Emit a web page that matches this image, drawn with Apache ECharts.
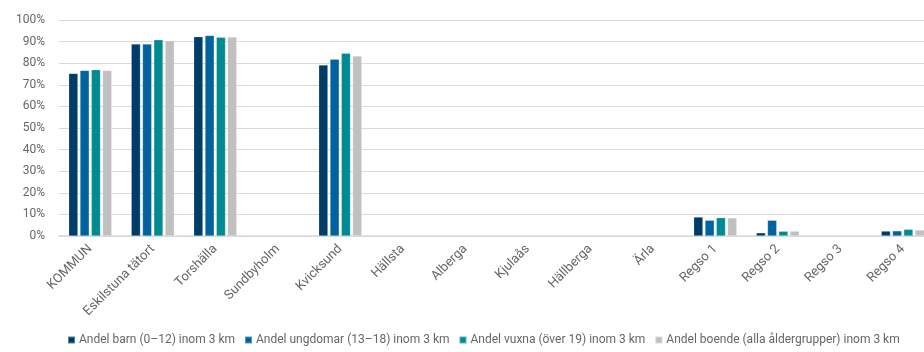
<!DOCTYPE html>
<html><head><meta charset="utf-8">
<script src="https://cdn.jsdelivr.net/npm/echarts@6/dist/echarts.min.js"></script>
<style>html,body{margin:0;padding:0;background:#fff}#c{width:924px;height:352px}</style>
</head><body><div id="c"></div>
<script>
const categories = ['KOMMUN','Eskilstuna tätort','Torshälla','Sundbyholm','Kvicksund','Hällsta','Alberga','Kjulaås','Hällberga','Ärla','Regso 1','Regso 2','Regso 3','Regso 4'];
const seriesNames = ['Andel barn (0–12) inom 3 km','Andel ungdomar (13–18) inom 3 km','Andel vuxna (över 19) inom 3 km','Andel boende (alla åldergrupper) inom 3 km'];
const barn     = [75.3, 88.9, 92.3, null, 79.2, null, null, null, null, null, 8.8, 1.5, null, 2.3];
const ungdomar = [76.7, 88.9, 92.8, null, 81.9, null, null, null, null, null, 7.3, 7.3, null, 2.4];
const vuxna    = [77.0, 90.9, 92.0, null, 84.6, null, null, null, null, null, 8.5, 2.2, null, 3.1];
const boende   = [76.7, 90.4, 92.1, null, 83.3, null, null, null, null, null, 8.4, 2.3, null, 2.8];
const yTicks = [0,10,20,30,40,50,60,70,80,90,100];
const colors = ['#003c68','#00629e','#008b93','#c0c0c0'];
const font = 'Roboto';
const chart = echarts.init(document.getElementById('c'));
const mk = (name, data, i) => ({
  name, type: 'bar', data, barGap: '22%', barCategoryGap: '31%',
  itemStyle: {color: colors[i], borderColor: 'rgba(255,255,255,0.35)', borderWidth: 0.6}
});
chart.setOption({
  animation: false,
  textStyle: {fontFamily: font},
  grid: {left: 59, width: 875, top: 20, bottom: 116, containLabel: false, outerBoundsMode: 'none'},
  legend: {
    bottom: 1, left: 62, itemWidth: 7, itemHeight: 7, itemGap: 9,
    icon: 'rect',
    textStyle: {color: '#666', fontSize: 12, fontFamily: font, padding: [0,0,0,-1]},
    data: seriesNames
  },
  xAxis: {
    type: 'category', data: categories,
    axisLine: {lineStyle: {color: '#d9d9d9', width: 1.5}},
    axisTick: {show: false},
    axisLabel: {rotate: 45, color: '#666', fontSize: 13, fontFamily: font, margin: 11, interval: 0}
  },
  yAxis: {
    type: 'value', min: yTicks[0], max: yTicks[yTicks.length-1], interval: 10,
    axisLine: {show: false}, axisTick: {show: false},
    axisLabel: {color: '#666', fontSize: 12, fontFamily: font, margin: 14, formatter: v => v + '%'},
    splitLine: {lineStyle: {color: '#d9d9d9', width: 1}}
  },
  series: [mk(seriesNames[0], barn, 0), mk(seriesNames[1], ungdomar, 1), mk(seriesNames[2], vuxna, 2), mk(seriesNames[3], boende, 3)]
});
</script></body></html>
